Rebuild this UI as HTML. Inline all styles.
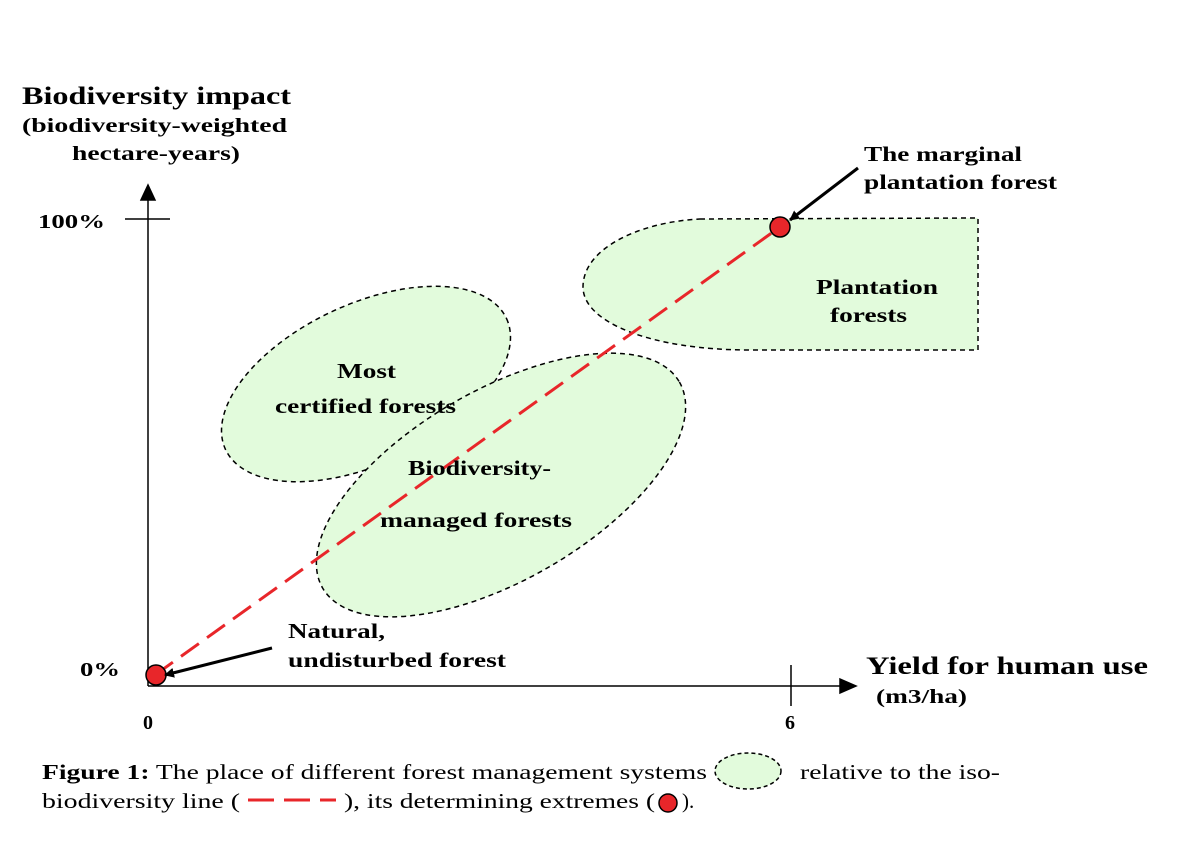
<!DOCTYPE html>
<html><head><style>html,body{margin:0;padding:0;background:#fff;}svg{display:block}</style></head>
<body>
<svg width="1184" height="855" viewBox="0 0 1184 855" xmlns="http://www.w3.org/2000/svg" font-family="Liberation Serif, serif">
<defs>
<marker id="ah" markerWidth="10" markerHeight="10" refX="9" refY="5" orient="auto" markerUnits="userSpaceOnUse"><path d="M0,0 L10,5 L0,10 Z" fill="#000"/></marker>
</defs>
<g fill="#e2fbdc" stroke="#000" stroke-width="1.5" stroke-dasharray="5,4">
<ellipse cx="366" cy="384" rx="155" ry="80" transform="rotate(-25 366 384)"/>
<ellipse cx="501" cy="485" rx="206" ry="95" transform="rotate(-30 501 485)"/>
<path d="M700,219 L978,218 L978,350 L750,350 C650,350 583,322 583,287 C583,248 640,222 700,219 Z"/>
</g>
<g stroke="#000" stroke-width="1.5" fill="none">
<line x1="148" y1="686" x2="148" y2="190"/>
<path d="M141,200 L148,185 L155,200 Z" fill="#000"/>
<line x1="125" y1="219" x2="170" y2="219"/>
<line x1="148" y1="686" x2="845" y2="686"/>
<path d="M840,679 L856,686 L840,693 Z" fill="#000"/>
<line x1="791" y1="665" x2="791" y2="706"/>
</g>
<line x1="155" y1="675" x2="780" y2="227" stroke="#e8262a" stroke-width="3" stroke-dasharray="22,10"/>
<circle cx="156" cy="675" r="10" fill="#e8262a" stroke="#000" stroke-width="1.5"/>
<circle cx="780" cy="227" r="10" fill="#e8262a" stroke="#000" stroke-width="1.5"/>
<line x1="272" y1="648" x2="165" y2="675" stroke="#000" stroke-width="3" marker-end="url(#ah)"/>
<line x1="858" y1="168" x2="790" y2="220" stroke="#000" stroke-width="3" marker-end="url(#ah)"/>
<g font-weight="bold" fill="#000" lengthAdjust="spacingAndGlyphs">
<text x="22" y="104" font-size="25" textLength="269" lengthAdjust="spacingAndGlyphs">Biodiversity impact</text>
<text x="22" y="132" font-size="20" textLength="265" lengthAdjust="spacingAndGlyphs">(biodiversity-weighted</text>
<text x="72" y="160" font-size="20" textLength="168" lengthAdjust="spacingAndGlyphs">hectare-years)</text>
<text x="38" y="228" font-size="20" textLength="67" lengthAdjust="spacingAndGlyphs">100%</text>
<text x="80" y="676" font-size="20" textLength="40" lengthAdjust="spacingAndGlyphs">0%</text>
<text x="143" y="729" font-size="20">0</text>
<text x="785" y="729" font-size="20">6</text>
<text x="866" y="674" font-size="25" textLength="282" lengthAdjust="spacingAndGlyphs">Yield for human use</text>
<text x="876" y="703" font-size="20" textLength="91" lengthAdjust="spacingAndGlyphs">(m3/ha)</text>
<text x="864" y="161" font-size="21" textLength="158" lengthAdjust="spacingAndGlyphs">The marginal</text>
<text x="864" y="189" font-size="21" textLength="193" lengthAdjust="spacingAndGlyphs">plantation forest</text>
<text x="816" y="294" font-size="21" textLength="122" lengthAdjust="spacingAndGlyphs">Plantation</text>
<text x="830" y="322" font-size="21" textLength="77" lengthAdjust="spacingAndGlyphs">forests</text>
<text x="337" y="378" font-size="21" textLength="59" lengthAdjust="spacingAndGlyphs">Most</text>
<text x="275" y="413" font-size="21" textLength="181" lengthAdjust="spacingAndGlyphs">certified forests</text>
<text x="408" y="475" font-size="21" textLength="143" lengthAdjust="spacingAndGlyphs">Biodiversity-</text>
<text x="380" y="527" font-size="21" textLength="192" lengthAdjust="spacingAndGlyphs">managed forests</text>
<text x="288" y="638" font-size="21" textLength="97" lengthAdjust="spacingAndGlyphs">Natural,</text>
<text x="288" y="667" font-size="21" textLength="218" lengthAdjust="spacingAndGlyphs">undisturbed forest</text>
</g>
<text x="42" y="779" font-size="21" textLength="665" lengthAdjust="spacingAndGlyphs"><tspan font-weight="bold">Figure 1:</tspan> The place of different forest management systems</text>
<ellipse cx="748" cy="771" rx="33" ry="18" fill="#e2fbdc" stroke="#000" stroke-width="1.5" stroke-dasharray="4,3"/>
<text x="800" y="779" font-size="21" textLength="200" lengthAdjust="spacingAndGlyphs">relative to the iso-</text>
<text x="42" y="808" font-size="21" textLength="198" lengthAdjust="spacingAndGlyphs">biodiversity line (</text>
<line x1="248" y1="800" x2="336" y2="800" stroke="#e8262a" stroke-width="3" stroke-dasharray="26,10"/>
<text x="344" y="808" font-size="21" textLength="311" lengthAdjust="spacingAndGlyphs">), its determining extremes (</text>
<circle cx="668" cy="803" r="9" fill="#e8262a" stroke="#000" stroke-width="1.5"/>
<text x="682" y="808" font-size="21">).</text>
</svg>
</body></html>
